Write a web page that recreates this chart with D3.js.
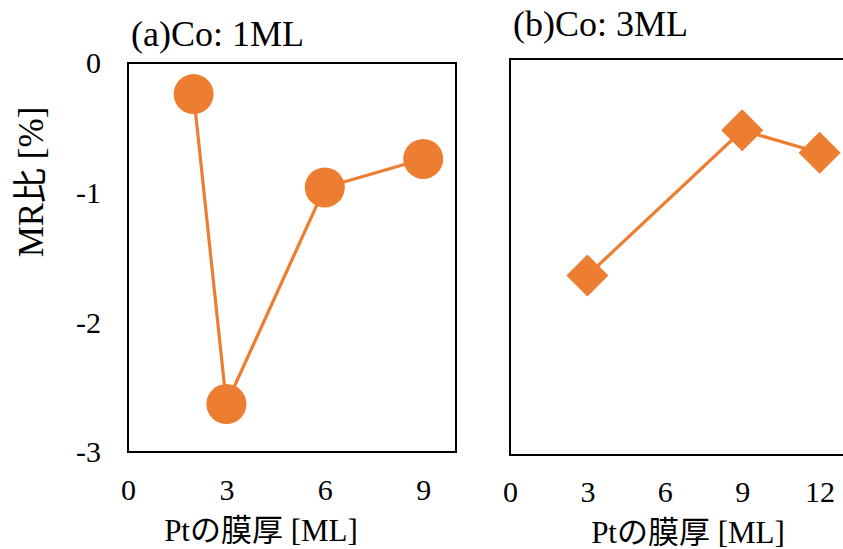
<!DOCTYPE html>
<html>
<head>
<meta charset="utf-8">
<script src="https://cdn.jsdelivr.net/npm/d3@7"></script>
<style>
  html, body { margin: 0; padding: 0; background: #fff; }
  svg { display: block; }
  text { font-family: "Liberation Serif", "Noto Sans CJK JP", serif; fill: #000; }
</style>
</head>
<body>
<svg id="chart" width="843" height="549"></svg>
<script>
// Pt thickness [ML] and MR ratio [%] for each Co thickness
const ptA = [2, 3, 6, 9];
const mrA = [-0.24, -2.63, -0.96, -0.74];
const ptB = [3, 9, 12];
const mrB = [-1.64, -0.54, -0.71];

const yTicks = [0, -1, -2, -3];
const xTicksA = [0, 3, 6, 9];
const xTicksB = [0, 3, 6, 9, 12];

const titleA = "(a)Co: 1ML";
const titleB = "(b)Co: 3ML";
const xTitle = "Ptの膜厚 [ML]";
const yTitle = "MR比 [%]";

const orange = "#ED7D31";
const tickFont = 30;
const svg = d3.select("#chart");

// plain hyphen for negatives, as in the source workbook
const fmt = d => String(d);

function panel(cfg) {
  const x = d3.scaleLinear().domain(cfg.xDomain).range([cfg.left, cfg.right]);
  const y = d3.scaleLinear().domain([0, -3]).range([cfg.top, cfg.bottom]);
  const g = svg.append("g");

  // x tick labels (no tick marks)
  const xAxis = d3.axisBottom(x).tickValues(cfg.xTicks).tickSize(0).tickPadding(0).tickFormat(fmt);
  const xg = g.append("g").attr("transform", `translate(0,${cfg.xLabelY})`).call(xAxis);
  xg.select(".domain").remove();
  xg.selectAll("text").attr("font-size", tickFont).attr("font-family", "Liberation Serif")
    .attr("dy", 0).attr("y", 0);

  if (cfg.showY) {
    const yAxis = d3.axisLeft(y).tickValues(yTicks).tickSize(0).tickPadding(0).tickFormat(fmt);
    const yg = g.append("g").attr("transform", `translate(${cfg.yLabelX},0)`).call(yAxis);
    yg.select(".domain").remove();
    yg.selectAll("text").attr("font-size", tickFont).attr("font-family", "Liberation Serif")
      .attr("dy", "0.33em").attr("x", 0);
  }

  // line and markers
  const data = cfg.xs.map((v, i) => [v, cfg.ys[i]]);
  const line = d3.line().x(d => x(d[0])).y(d => y(d[1]));
  g.append("path").datum(data).attr("d", line)
    .attr("fill", "none").attr("stroke", orange).attr("stroke-width", 3.2);

  if (cfg.marker === "circle") {
    g.selectAll("circle.pt").data(data).join("circle")
      .attr("cx", d => x(d[0])).attr("cy", d => y(d[1])).attr("r", 20).attr("fill", orange);
  } else {
    const sym = d3.symbol().type(d3.symbolSquare).size(800);
    g.selectAll("path.pt").data(data).join("path")
      .attr("d", sym)
      .attr("transform", d => `translate(${x(d[0])},${y(d[1])}) rotate(45)`)
      .attr("stroke", orange).attr("stroke-width", 1.5).attr("stroke-linejoin", "round")
      .attr("fill", orange);
  }

  // plot frame
  g.append("rect")
    .attr("x", cfg.left).attr("y", cfg.top)
    .attr("width", cfg.right - cfg.left).attr("height", cfg.bottom - cfg.top)
    .attr("fill", "none").attr("stroke", "#000").attr("stroke-width", 2);

  // titles
  g.append("text").attr("x", cfg.titleX).attr("y", cfg.titleY)
    .attr("font-size", 36).text(cfg.title);
  g.append("text").attr("x", cfg.xTitleX).attr("y", cfg.xTitleY)
    .attr("text-anchor", "middle").attr("font-size", 31).text(xTitle);
}

panel({
  xDomain: [0, 10], left: 128, right: 456, top: 63, bottom: 452,
  xTicks: xTicksA, xLabelY: 500, showY: true, yLabelX: 101,
  xs: ptA, ys: mrA, marker: "circle",
  title: titleA, titleX: 131, titleY: 46,
  xTitleX: 261, xTitleY: 541
});

panel({
  xDomain: [0, 15], left: 510, right: 897, top: 59, bottom: 455,
  xTicks: xTicksB, xLabelY: 502, showY: false,
  xs: ptB, ys: mrB, marker: "diamond",
  title: titleB, titleX: 513, titleY: 36,
  xTitleX: 688, xTitleY: 543
});

// shared y-axis title
svg.append("text")
  .attr("transform", "translate(43,182) rotate(-90)")
  .attr("text-anchor", "middle").attr("font-size", 35)
  .text(yTitle);
</script>
</body>
</html>
